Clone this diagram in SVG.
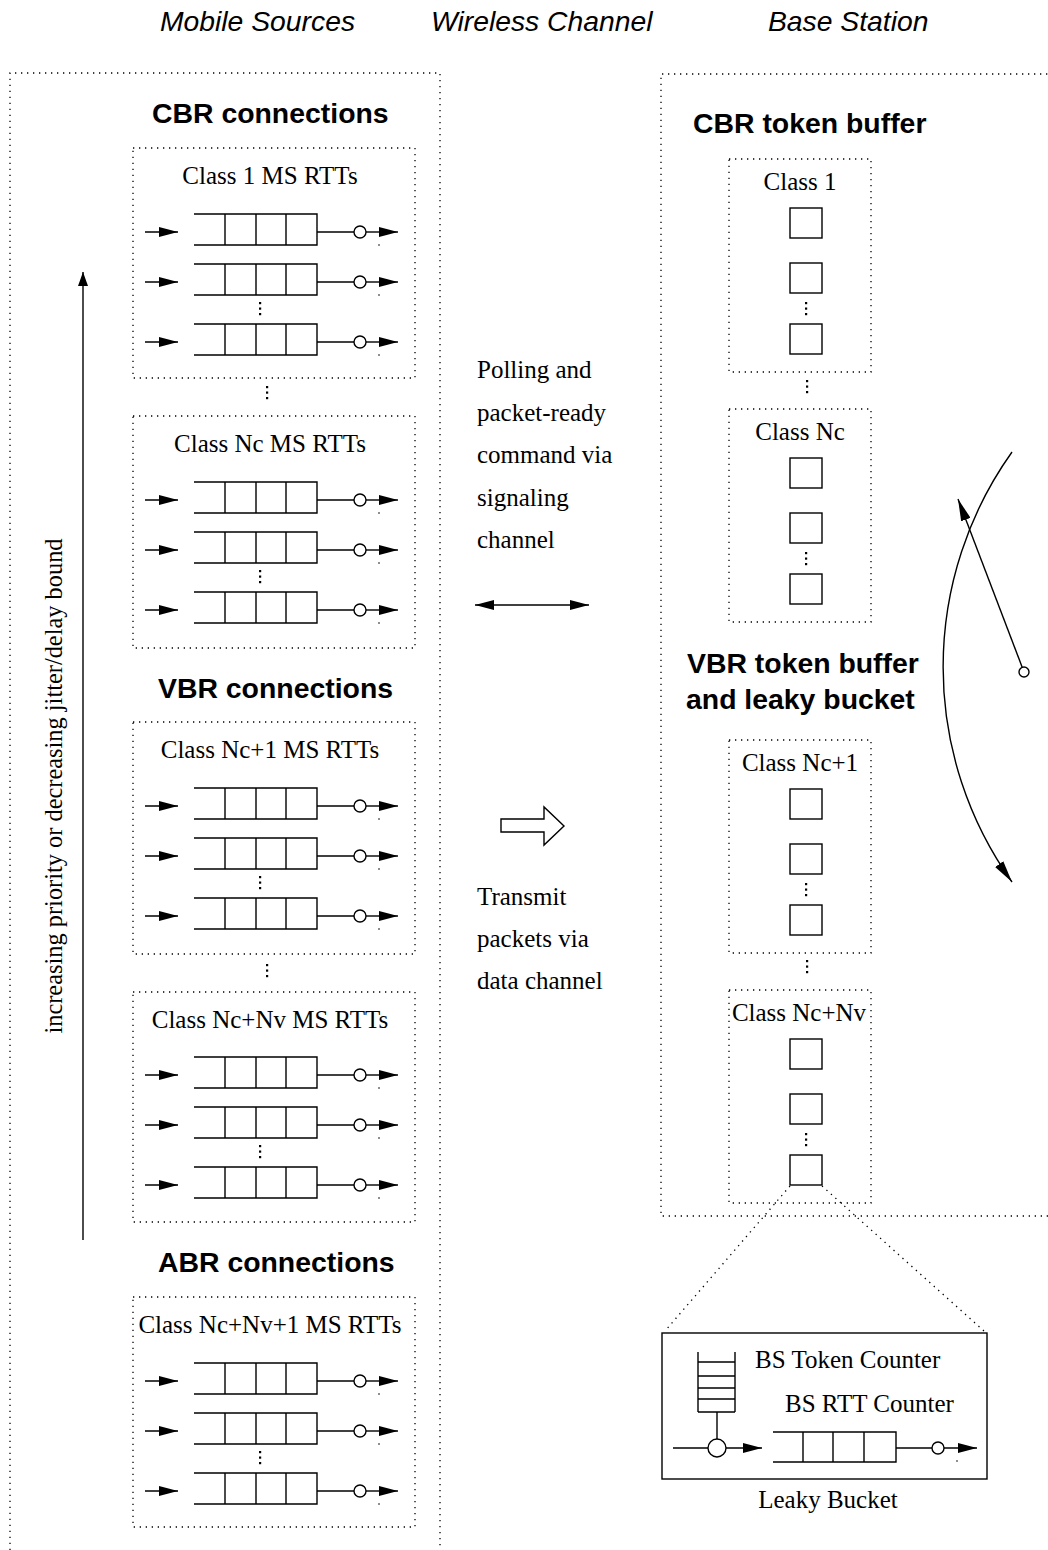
<svg xmlns="http://www.w3.org/2000/svg" xmlns:xlink="http://www.w3.org/1999/xlink" width="1048" height="1550" viewBox="0 0 1048 1550">
  <style>
    .dot { fill: none; stroke: #000; stroke-width: 1.3; stroke-dasharray: 1.3 4.7; }
    .ln { fill: none; stroke: #000; stroke-width: 1.4; }
    .ser { font-family: "Liberation Serif", "Times New Roman", serif; font-size: 25px; fill: #000; }
    .hd { font-family: "Liberation Sans", Arial, sans-serif; font-weight: bold; font-size: 28.4px; fill: #000; }
    .it { font-family: "Liberation Sans", Arial, sans-serif; font-style: italic; font-size: 28.3px; fill: #000; }
    .mid { text-anchor: middle; }
  </style>
  <defs>
    <marker id="ah" markerUnits="userSpaceOnUse" markerWidth="19" markerHeight="10" refX="19" refY="5" orient="auto-start-reverse">
      <path d="M0,0 L19,5 L0,10 Z" fill="#000"/>
    </marker>
    <marker id="ahS" markerUnits="userSpaceOnUse" markerWidth="14" markerHeight="10" refX="14" refY="5" orient="auto">
      <path d="M0,0 L14,5 L0,10 Z" fill="#000"/>
    </marker>
    <marker id="ahL" markerUnits="userSpaceOnUse" markerWidth="22" markerHeight="10" refX="22" refY="5" orient="auto">
      <path d="M0,0 L22,5 L0,10 Z" fill="#000"/>
    </marker>
    <!-- one MS RTT queue: input arrow, FIFO queue open on the left, server, output arrow -->
    <g id="row">
      <line x1="145" y1="0" x2="178" y2="0" class="ln" marker-end="url(#ah)"/>
      <path d="M194,-18 H317 V13 H194 M225,-18 V13 M256,-18 V13 M286,-18 V13" class="ln"/>
      <line x1="317" y1="0" x2="354" y2="0" class="ln"/>
      <circle cx="360" cy="0" r="6" class="ln" fill="#fff"/>
      <line x1="366" y1="0" x2="398" y2="0" class="ln" marker-end="url(#ah)"/>
      <circle cx="379" cy="13" r="0.8" fill="#000"/>
    </g>
    <!-- vertical ellipsis -->
    <g id="vdots">
      <rect x="-1" y="-1" width="2.2" height="2.2" fill="#000"/>
      <rect x="-1" y="4.5" width="2.2" height="2.2" fill="#000"/>
      <rect x="-1" y="10" width="2.2" height="2.2" fill="#000"/>
    </g>
    <!-- token square -->
    <rect id="tok" x="0" y="0" width="32" height="30" class="ln"/>
  </defs>

  <rect x="0" y="0" width="1048" height="1550" fill="#fff"/>

  <!-- column headings -->
  <g id="headings">
    <text x="160" y="31" class="it">Mobile Sources</text>
    <text x="431" y="31" class="it">Wireless Channel</text>
    <text x="768" y="31" class="it">Base Station</text>
  </g>

  <!-- mobile sources -->
  <g id="mobile-sources">
    <path d="M10,1550 V73 H440 V1550" class="dot"/>
    <text x="152" y="123" class="hd">CBR connections</text>
    <text x="158" y="698" class="hd">VBR connections</text>
    <text x="158" y="1272" class="hd">ABR connections</text>
    <use xlink:href="#vdots" x="267" y="387"/>
    <use xlink:href="#vdots" x="267" y="965"/>
  </g>

  <g id="ms-class-1">
    <rect x="133" y="148" width="282" height="230" class="dot"/>
    <text x="270" y="184" class="ser mid">Class 1 MS RTTs</text>
    <use xlink:href="#row" y="232"/>
    <use xlink:href="#row" y="282"/>
    <use xlink:href="#vdots" x="260" y="303"/>
    <use xlink:href="#row" y="342"/>
  </g>

  <g id="ms-class-nc">
    <rect x="133" y="416" width="282" height="232" class="dot"/>
    <text x="270" y="452" class="ser mid">Class Nc MS RTTs</text>
    <use xlink:href="#row" y="500"/>
    <use xlink:href="#row" y="550"/>
    <use xlink:href="#vdots" x="260" y="571"/>
    <use xlink:href="#row" y="610"/>
  </g>

  <g id="ms-class-nc1">
    <rect x="133" y="722" width="282" height="232" class="dot"/>
    <text x="270" y="758" class="ser mid">Class Nc+1 MS RTTs</text>
    <use xlink:href="#row" y="806"/>
    <use xlink:href="#row" y="856"/>
    <use xlink:href="#vdots" x="260" y="877"/>
    <use xlink:href="#row" y="916"/>
  </g>

  <g id="ms-class-ncnv">
    <rect x="133" y="992" width="282" height="230" class="dot"/>
    <text x="270" y="1028" class="ser mid">Class Nc+Nv MS RTTs</text>
    <use xlink:href="#row" y="1075"/>
    <use xlink:href="#row" y="1125"/>
    <use xlink:href="#vdots" x="260" y="1146"/>
    <use xlink:href="#row" y="1185"/>
  </g>

  <g id="ms-class-ncnv1">
    <rect x="133" y="1297" width="282" height="230" class="dot"/>
    <text x="270" y="1333" class="ser mid">Class Nc+Nv+1 MS RTTs</text>
    <use xlink:href="#row" y="1381"/>
    <use xlink:href="#row" y="1431"/>
    <use xlink:href="#vdots" x="260" y="1452"/>
    <use xlink:href="#row" y="1491"/>
  </g>

  <!-- priority axis -->
  <g id="priority-axis">
    <line x1="83" y1="1240" x2="83" y2="272" class="ln" marker-end="url(#ahS)"/>
    <text transform="translate(62,786) rotate(-90)" class="ser mid" style="font-size:24.4px">increasing priority or decreasing jitter/delay bound</text>
  </g>

  <!-- wireless channel -->
  <g id="signaling">
    <text x="477" y="378" class="ser">Polling and</text>
    <text x="477" y="421" class="ser">packet-ready</text>
    <text x="477" y="463" class="ser">command via</text>
    <text x="477" y="506" class="ser">signaling</text>
    <text x="477" y="548" class="ser">channel</text>
  </g>
  <g id="data-channel">
    <polygon points="501,819 544,819 544,807 564,826 544,845 544,832 501,832" class="ln" stroke-width="1.2" fill="#fff"/>
    <text x="477" y="905" class="ser">Transmit</text>
    <text x="477" y="947" class="ser">packets via</text>
    <text x="477" y="989" class="ser">data channel</text>
  </g>

  <!-- base station -->
  <g id="base-station">
    <path d="M1048,1216 H661 V74 H1048" class="dot"/>
    <text x="693" y="133" class="hd">CBR token buffer</text>
    <text x="687" y="673" class="hd">VBR token buffer</text>
    <text x="686" y="709" class="hd">and leaky bucket</text>
    <use xlink:href="#vdots" x="807" y="381"/>
    <use xlink:href="#vdots" x="807" y="961"/>
  </g>

  <g id="bs-class-1">
    <rect x="729" y="159" width="142" height="213" class="dot"/>
    <text x="800" y="190" class="ser mid">Class 1</text>
    <use xlink:href="#tok" x="790" y="208"/>
    <use xlink:href="#tok" x="790" y="263"/>
    <use xlink:href="#vdots" x="806" y="303"/>
    <use xlink:href="#tok" x="790" y="324"/>
  </g>

  <g id="bs-class-nc">
    <rect x="729" y="409" width="142" height="213" class="dot"/>
    <text x="800" y="440" class="ser mid">Class Nc</text>
    <use xlink:href="#tok" x="790" y="458"/>
    <use xlink:href="#tok" x="790" y="513"/>
    <use xlink:href="#vdots" x="806" y="553"/>
    <use xlink:href="#tok" x="790" y="574"/>
  </g>

  <g id="bs-class-nc1">
    <rect x="729" y="740" width="142" height="213" class="dot"/>
    <text x="800" y="771" class="ser mid">Class Nc+1</text>
    <use xlink:href="#tok" x="790" y="789"/>
    <use xlink:href="#tok" x="790" y="844"/>
    <use xlink:href="#vdots" x="806" y="884"/>
    <use xlink:href="#tok" x="790" y="905"/>
  </g>

  <g id="bs-class-ncnv">
    <rect x="729" y="990" width="142" height="213" class="dot"/>
    <text x="799" y="1021" class="ser mid">Class Nc+Nv</text>
    <use xlink:href="#tok" x="790" y="1039"/>
    <use xlink:href="#tok" x="790" y="1094"/>
    <use xlink:href="#vdots" x="806" y="1134"/>
    <use xlink:href="#tok" x="790" y="1155"/>
  </g>

  <!-- leaky bucket detail -->
  <g id="leaky-bucket">
    <rect x="662" y="1333" width="325" height="146" class="ln"/>
    <path d="M698,1352 V1412 M735,1352 V1412 M698,1362 H735 M698,1376 H735 M698,1388 H735 M698,1399 H735 M698,1412 H735" class="ln"/>
    <line x1="717" y1="1412" x2="717" y2="1439" class="ln"/>
    <line x1="673" y1="1448" x2="708" y2="1448" class="ln"/>
    <circle cx="717" cy="1448" r="9" class="ln"/>
    <line x1="726" y1="1448" x2="762" y2="1448" class="ln" marker-end="url(#ah)"/>
    <path d="M773,1432 H896 V1462 H773 M803,1432 V1462 M833,1432 V1462 M864,1432 V1462" class="ln"/>
    <line x1="896" y1="1448" x2="932" y2="1448" class="ln"/>
    <circle cx="938" cy="1448" r="6" class="ln"/>
    <line x1="944" y1="1448" x2="977" y2="1448" class="ln" marker-end="url(#ah)"/>
    <circle cx="957" cy="1461" r="0.8" fill="#000"/>
    <text x="755" y="1368" class="ser">BS Token Counter</text>
    <text x="785" y="1412" class="ser">BS RTT Counter</text>
    <text x="828" y="1508" class="ser mid">Leaky Bucket</text>
  </g>

  <!-- connectors -->
  <g id="connectors">
    <line x1="475" y1="605" x2="589" y2="605" class="ln" stroke-width="1.2" marker-start="url(#ah)" marker-end="url(#ah)"/>
    <line x1="790" y1="1186" x2="665" y2="1331" class="dot"/>
    <line x1="822" y1="1186" x2="984" y2="1331" class="dot"/>
    <path d="M1012,452 A370,370 0 0 0 1012,882" class="ln" marker-end="url(#ahL)"/>
    <circle cx="1024" cy="672" r="5" class="ln"/>
    <line x1="1022.2" y1="667.3" x2="958" y2="499" class="ln" marker-end="url(#ahL)"/>
  </g>
</svg>
